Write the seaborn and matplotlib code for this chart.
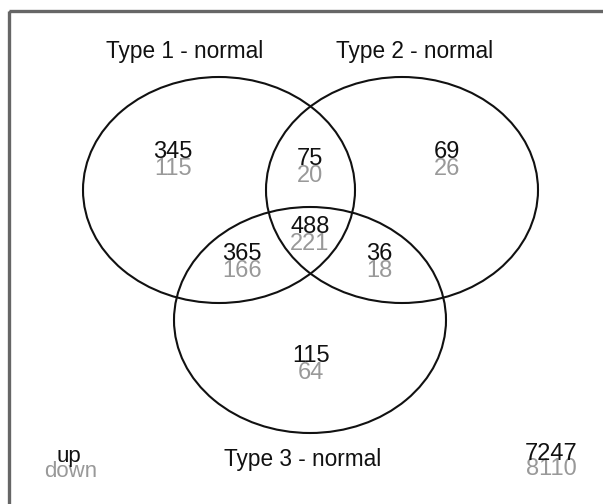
import matplotlib
matplotlib.use("Agg")
import matplotlib.pyplot as plt
import matplotlib.patches as patches
import seaborn as sns

sns.set_style("white")
plt.rcParams["font.family"] = ["Liberation Sans", "DejaVu Sans"]

# data
set_names = ["Type 1 - normal", "Type 2 - normal", "Type 3 - normal"]
regions = ["1", "1&2", "2", "1&3", "1&2&3", "2&3", "3"]
up_counts = [345, 75, 69, 365, 488, 36, 115]
down_counts = [115, 20, 26, 166, 221, 18, 64]
outside_up = 7247
outside_down = 8110

# layout (pixel coords, y downwards)
ellipse_centers = [(219, 190), (402, 190), (310, 320)]
ellipse_w, ellipse_h = 272, 226
name_pos = [(185, 58), (415, 58), (303, 466)]
region_pos = [(173, 158), (310, 165), (447, 158), (242, 260),
              (310, 233), (379, 260), (311, 362)]
DOWN_OFFSET = 17
UP_COLOR = "#111111"
DOWN_COLOR = "#999999"
NUM_SIZE = 17

fig = plt.figure(figsize=(6.03, 5.04), dpi=100)
ax = fig.add_axes([0, 0, 1, 1])
ax.set_xlim(0, 603)
ax.set_ylim(504, 0)
ax.axis("off")

# frame (only top/left edge visible)
ax.add_patch(patches.Rectangle((9, 11), 620, 520, fill=False,
                               edgecolor="#666666", linewidth=2.4))

for (cx, cy) in ellipse_centers:
    ax.add_patch(patches.Ellipse((cx, cy), ellipse_w, ellipse_h, fill=False,
                                 edgecolor="#111111", linewidth=1.5))

for name, (x, y) in zip(set_names, name_pos):
    ax.text(x, y, name, ha="center", va="baseline", fontsize=16.3, color="#111111")

for u, d, (x, y) in zip(up_counts, down_counts, region_pos):
    ax.text(x, y + DOWN_OFFSET, str(d), ha="center", va="baseline",
            fontsize=NUM_SIZE, color=DOWN_COLOR)
    ax.text(x, y, str(u), ha="center", va="baseline", fontsize=NUM_SIZE, color=UP_COLOR)

ax.text(71, 477, "down", ha="center", va="baseline", fontsize=16, color=DOWN_COLOR)
ax.text(69, 462, "up", ha="center", va="baseline", fontsize=16, color=UP_COLOR)
ax.text(551, 475, str(outside_down), ha="center", va="baseline", fontsize=NUM_SIZE, color=DOWN_COLOR)
ax.text(551, 460, str(outside_up), ha="center", va="baseline", fontsize=NUM_SIZE, color=UP_COLOR)

fig.savefig("out.png", dpi=100, facecolor="white")
